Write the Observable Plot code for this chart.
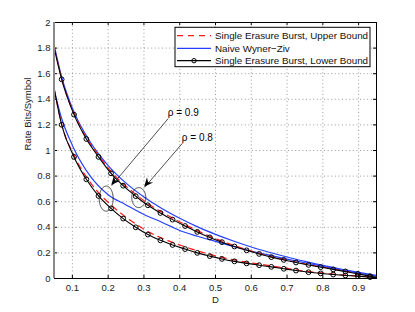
<!DOCTYPE html>
<html><head><meta charset="utf-8">
<script src="https://cdn.jsdelivr.net/npm/d3@7"></script>
<script src="https://cdn.jsdelivr.net/npm/@observablehq/plot@0.6"></script>
<style>
body{margin:0;background:#fff}
svg{font-family:"Liberation Sans",Arial,Helvetica,sans-serif}
</style>
</head><body><div id="chart"></div>
<script>
// ---- data ----
const D = [0.05, 0.07, 0.1045, 0.139, 0.173, 0.208, 0.242, 0.277, 0.311, 0.346, 0.380, 0.415, 0.449, 0.484, 0.518, 0.553, 0.587, 0.622, 0.656, 0.691, 0.725, 0.760, 0.794, 0.829, 0.863, 0.898, 0.932, 0.95];
// rho = 0.8
const lower08 = [1.79, 1.556, 1.28, 1.09, 0.95, 0.822, 0.725, 0.643, 0.572, 0.512, 0.460, 0.410, 0.364, 0.321, 0.284, 0.250, 0.220, 0.192, 0.167, 0.145, 0.125, 0.106, 0.089, 0.071, 0.055, 0.036, 0.018, 0.009];
const upper08 = [1.80, 1.562, 1.29, 1.102, 0.963, 0.836, 0.740, 0.658, 0.586, 0.525, 0.472, 0.421, 0.374, 0.330, 0.292, 0.257, 0.226, 0.197, 0.171, 0.148, 0.128, 0.108, 0.091, 0.073, 0.056, 0.037, 0.019, 0.010];
// rho = 0.9
const lower09 = [1.47, 1.201, 0.95, 0.775, 0.645, 0.548, 0.468, 0.400, 0.343, 0.298, 0.262, 0.230, 0.200, 0.175, 0.153, 0.134, 0.118, 0.104, 0.091, 0.076, 0.062, 0.049, 0.040, 0.031, 0.024, 0.018, 0.011, 0.007];
const upper09 = [1.47, 1.206, 0.962, 0.795, 0.670, 0.575, 0.495, 0.426, 0.367, 0.320, 0.282, 0.248, 0.216, 0.189, 0.165, 0.145, 0.128, 0.113, 0.099, 0.083, 0.068, 0.054, 0.044, 0.034, 0.026, 0.020, 0.012, 0.007];
// naive Wyner-Ziv
const Dwz = [0.05, 0.07, 0.1, 0.15, 0.2, 0.25, 0.3, 0.35, 0.4, 0.45, 0.5, 0.55, 0.6, 0.65, 0.7, 0.75, 0.8, 0.85, 0.9, 0.95];
const wz08 = [1.81, 1.575, 1.33, 1.065, 0.882, 0.745, 0.637, 0.547, 0.470, 0.403, 0.345, 0.293, 0.246, 0.205, 0.168, 0.134, 0.102, 0.074, 0.048, 0.024];
const wz09 = [1.46, 1.25, 1.04, 0.80, 0.655, 0.575, 0.50, 0.44, 0.375, 0.33, 0.29, 0.25, 0.215, 0.183, 0.152, 0.123, 0.095, 0.068, 0.042, 0.018];

const xTicks = [0.1, 0.2, 0.3, 0.4, 0.5, 0.6, 0.7, 0.8, 0.9];
const xTickLabels = ["0.1", "0.2", "0.3", "0.4", "0.5", "0.6", "0.7", "0.8", "0.9"];
const yTicks = [0, 0.2, 0.4, 0.6, 0.8, 1, 1.2, 1.4, 1.6, 1.8, 2];
const yTickLabels = ["0", "0.2", "0.4", "0.6", "0.8", "1", "1.2", "1.4", "1.6", "1.8", "2"];

const legendLabels = ["Single Erasure Burst, Upper Bound", "Naive Wyner\u2212Ziv", "Single Erasure Burst, Lower Bound"];
const xLabel = "D";
const yLabel = "Rate Bits/Symbol";

// annotations (data coordinates)
const annText = ["\u03c1 = 0.9", "\u03c1 = 0.8"];
const annTextD = [0.3666, 0.406];
const annTextR = [1.292, 1.099];
const arrowFromD = [0.3674, 0.4077];
const arrowFromR = [1.248, 1.057];
const arrowToD = [0.210, 0.302];
const arrowToR = [0.726, 0.713];
const ellCD = [0.1945, 0.2855];
const ellCR = [0.624, 0.632];
const ellRD = [0.0196, 0.0196];
const ellRR = [0.098, 0.078];

// ---- tables ----
const rows = (xs, ys) => xs.map((x, i) => ({x, y: ys[i]}));
const l08 = rows(D, lower08), u08 = rows(D, upper08), l09 = rows(D, lower09), u09 = rows(D, upper09);
const w08 = rows(Dwz, wz08), w09 = rows(Dwz, wz09);
const markers = [...l08.slice(1, -1), ...l09.slice(1, -1)];
const ellipses = [];
ellCD.forEach((cx, k) => {
  d3.range(0, 65).forEach(j => {
    const t = j / 64 * 2 * Math.PI;
    ellipses.push({k, x: cx + ellRD[k] * Math.cos(t), y: ellCR[k] + ellRR[k] * Math.sin(t)});
  });
});
const arrows = arrowFromD.map((d, i) => ({x1: d, y1: arrowFromR[i], x2: arrowToD[i], y2: arrowToR[i]}));
const ann = annText.map((t, i) => ({t, x: annTextD[i], y: annTextR[i]}));

const BLUE = "#2440ff", RED = "#ff1a1a", GRID = "#9a9a9a";
const DASH = "6,5";
const tx = 3 / 357.5, ty = 3 / 127.7; // tick length in data units (approx 3px)

const plot = Plot.plot({
  width: 415, height: 312,
  marginLeft: 54, marginRight: 39, marginTop: 22, marginBottom: 34,
  x: {domain: [0.05, 0.95], axis: null},
  y: {domain: [0, 2], axis: null},
  style: {background: "white", fontFamily: "'Liberation Sans', Arial, sans-serif", fontSize: "9.5px"},
  marks: [
    Plot.ruleX(xTicks, {stroke: GRID, strokeDasharray: "1,2.6", strokeWidth: 1}),
    Plot.ruleY(yTicks.slice(1, -1), {stroke: GRID, strokeDasharray: "1,2.6", strokeWidth: 1}),
    // naive WZ
    Plot.line(w08, {x: "x", y: "y", stroke: BLUE, strokeWidth: 1.2, curve: "monotone-x"}),
    Plot.line(w09, {x: "x", y: "y", stroke: BLUE, strokeWidth: 1.2, curve: "monotone-x"}),
    // upper bounds
    Plot.line(u08, {x: "x", y: "y", stroke: RED, strokeWidth: 1.2, strokeDasharray: DASH, curve: "monotone-x"}),
    Plot.line(u09, {x: "x", y: "y", stroke: RED, strokeWidth: 1.2, strokeDasharray: DASH, curve: "monotone-x"}),
    // lower bounds
    Plot.line(l08, {x: "x", y: "y", stroke: "black", strokeWidth: 1.1, curve: "monotone-x"}),
    Plot.line(l09, {x: "x", y: "y", stroke: "black", strokeWidth: 1.1, curve: "monotone-x"}),
    Plot.dot(markers, {x: "x", y: "y", r: 2.4, stroke: "black", strokeWidth: 1, fill: "none"}),
    // annotations
    Plot.line(ellipses, {x: "x", y: "y", z: "k", stroke: "#222", strokeWidth: 0.8, curve: "linear"}),
    Plot.link(arrows, {x1: "x1", y1: "y1", x2: "x2", y2: "y2", stroke: "#222", strokeWidth: 0.8}),
    Plot.text(ann, {x: "x", y: "y", text: "t", textAnchor: "start", fontSize: 10, fill: "black"}),
    // frame & ticks (MATLAB style, inward)
    Plot.frame({stroke: "black", strokeWidth: 1}),
    Plot.ruleX(xTicks, {y1: 0, y2: ty, stroke: "black"}),
    Plot.ruleX(xTicks, {y1: 2 - ty, y2: 2, stroke: "black"}),
    Plot.ruleY(yTicks, {x1: 0.05, x2: 0.05 + tx, stroke: "black"}),
    Plot.ruleY(yTicks, {x1: 0.95 - tx, x2: 0.95, stroke: "black"}),
    // tick labels
    Plot.text(xTicks, {x: d => d, y: 0, text: (d, i) => xTickLabels[i], dy: 9, lineAnchor: "middle", fontSize: 9.5, fill: "#222"}),
    Plot.text(yTicks, {x: 0.05, y: d => d, text: (d, i) => yTickLabels[i], dx: -4, textAnchor: "end", fontSize: 9.5, fill: "#222"}),
    // axis labels
    Plot.text([xLabel], {frameAnchor: "bottom", dy: 21, lineAnchor: "middle", fontSize: 9.5, fill: "#222"}),
    Plot.text([yLabel], {frameAnchor: "left", dx: -27, rotate: -90, lineAnchor: "middle", fontSize: 9.5, fill: "#222"})
  ]
});

// gray left axis line, like the reference
const sx = plot.scale("x"), sy = plot.scale("y");
const svg = d3.select(plot);
svg.append("line")
  .attr("x1", sx.apply(0.05)).attr("x2", sx.apply(0.05))
  .attr("y1", sy.apply(0)).attr("y2", sy.apply(2))
  .attr("stroke", "#8a8a8a").attr("stroke-width", 2);

// filled arrow heads (computed from the Plot scales)
arrows.forEach(a => {
  const x1 = sx.apply(a.x1), y1 = sy.apply(a.y1), x2 = sx.apply(a.x2), y2 = sy.apply(a.y2);
  const ang = Math.atan2(y2 - y1, x2 - x1);
  const L = 9, W = 4, N = 6;
  const p = (along, across) => [x2 - along * Math.cos(ang) - across * Math.sin(ang), y2 - along * Math.sin(ang) + across * Math.cos(ang)];
  const pts = [p(0, 0), p(L, W), p(N, 0), p(L, -W)];
  svg.append("path").attr("d", "M" + pts.map(q => q.join(",")).join("L") + "Z").attr("fill", "black");
});

// legend
const lg = svg.append("g").attr("font-size", 9.8).attr("text-anchor", "start")
  .attr("font-family", "'Liberation Sans', Arial, sans-serif");
const bx = 175, by = 27.3, bw = 195, bh = 39.4;
lg.append("rect").attr("x", bx).attr("y", by).attr("width", bw).attr("height", bh).attr("fill", "white").attr("stroke", "black").attr("stroke-width", 1);
const rowY = [35.7, 48.3, 60.7];
const styles = [
  {stroke: RED, dash: DASH},
  {stroke: BLUE, dash: null},
  {stroke: "black", dash: null, marker: true}
];
legendLabels.forEach((t, i) => {
  const s = styles[i];
  const ln = lg.append("line").attr("x1", 177).attr("x2", 211).attr("y1", rowY[i]).attr("y2", rowY[i])
    .attr("stroke", s.stroke).attr("stroke-width", 1.2);
  if (s.dash) ln.attr("stroke-dasharray", s.dash);
  if (s.marker) lg.append("circle").attr("cx", 194).attr("cy", rowY[i]).attr("r", 2.2).attr("fill", "none").attr("stroke", "black");
  lg.append("text").attr("x", 215).attr("y", rowY[i]).attr("dy", "0.35em").attr("text-anchor", "start").attr("fill", "#111").text(t);
});

document.getElementById("chart").append(plot);
</script>
</body></html>
